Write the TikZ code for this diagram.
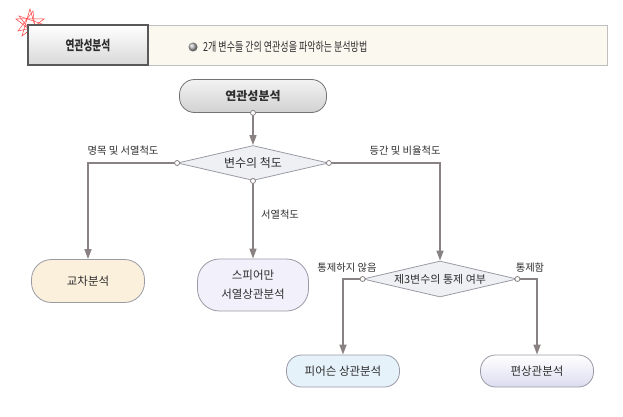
\documentclass[tikz,border=0pt]{standalone}
\usepackage{fontspec}
\setmainfont{Noto Sans CJK KR}
\newfontfamily\hdrfont[FakeStretch=0.72]{Noto Sans CJK KR}
\usetikzlibrary{shapes.geometric,arrows.meta}
\definecolor{linec}{HTML}{8A8282}
\definecolor{txt}{HTML}{2E2E2E}
\definecolor{bord}{HTML}{9A9AA6}
\definecolor{diafill}{HTML}{EEF0F4}
\definecolor{HeaderFill}{HTML}{FBF8F0}
\definecolor{CreamFill}{HTML}{FBF0DC}
\definecolor{LavFill}{HTML}{F2F0FA}
\definecolor{BlueFill}{HTML}{E6F2FA}
\definecolor{PurFill}{HTML}{DCDCF0}
\tikzset{
  pill/.style={rectangle, rounded corners=15pt, draw=bord, line width=0.8pt, inner sep=2pt, align=center, text=txt, font=\fontsize{11.5}{19}\selectfont},
  dia/.style={diamond, draw=bord, line width=0.8pt, fill=diafill, inner sep=0pt, text=txt, font=\fontsize{11}{13}\selectfont},
  conn/.style={draw=linec, line width=1.6pt, -{Triangle[length=10pt,width=7pt]}},
  lbl/.style={text=txt, font=\fontsize{10.3}{12}\selectfont, inner sep=1pt},
  knob/.style={circle, draw=linec, fill=white, line width=0.8pt, inner sep=0pt, minimum size=5pt}
}
\begin{document}
\begin{tikzpicture}[x=1pt,y=-1pt]
\useasboundingbox (0,0) rectangle (623,417);
% red scribble star
\draw[red!80, line width=0.5pt] (30,9) -- (38,36) -- (16,19) -- (44,19) -- (22,36) -- cycle;
\draw[red!70, line width=0.5pt] (33,11) -- (36,38) -- (19,16) -- (45,25) -- (18,31) -- cycle;
% header
\node[draw=black!25, fill=HeaderFill, minimum width=459pt, minimum height=40pt, inner sep=0pt] (hdrR) at (377.5,45) {};
\node[draw=black!65, line width=1.4pt, top color=white, bottom color=black!15, minimum width=120pt, minimum height=40pt, inner sep=0pt, text=txt, font=\hdrfont\bfseries\fontsize{13.5}{15}\selectfont] (hdrL) at (88,45) {연관성분석};
\shade[ball color=black!30] (193,47) circle (4.5pt);
\node[anchor=west, text=txt, font=\hdrfont\fontsize{12.5}{14}\selectfont, inner sep=0pt] (hdrT) at (203,47) {2개 변수들 간의 연관성을 파악하는 분석방법};
% main nodes
\node[pill, top color=black!5, bottom color=black!18, draw=black!55, minimum width=147pt, minimum height=33pt, font=\bfseries\fontsize{12}{14}\selectfont] (top) at (253,96) {연관성분석};
\node[dia, minimum width=151pt, minimum height=35pt, shape aspect=4.4, font=\fontsize{12}{14}\selectfont] (d1) at (253,163) {변수의 척도};
\node[pill, fill=CreamFill, minimum width=113pt, minimum height=43pt, rounded corners=20pt] (cross) at (88,281) {교차분석};
\node[pill, fill=LavFill, minimum width=111pt, minimum height=52pt, rounded corners=22pt] (spear) at (253,285) {스피어만\\서열상관분석};
\node[dia, minimum width=154pt, minimum height=36pt, shape aspect=4.3] (d2) at (440,279) {제3변수의 통제 여부};
\node[pill, fill=BlueFill, minimum width=113pt, minimum height=32pt] (pear) at (343,371) {피어슨 상관분석};
\node[pill, top color=white, bottom color=PurFill, minimum width=113pt, minimum height=32pt] (part) at (537,371) {편상관분석};
% connectors
\draw[conn] (top.south) -- (d1.north);
\draw[conn] (d1.west) -| (cross.north);
\draw[conn] (d1.east) -| (d2.north);
\draw[conn] (d1.south) -- (spear.north);
\draw[conn] (d2.west) -| (pear.north);
\draw[conn] (d2.east) -| (part.north);
% knobs
\node[knob] (k0) at (top.south) {};
\node[knob] (k1) at (d1.west) {};
\node[knob] (k2) at (d1.east) {};
\node[knob] (k3) at (d1.south) {};
\node[knob] (k4) at (d2.west) {};
\node[knob] (k5) at (d2.east) {};
% labels
\node[lbl] (l1) at (123,151) {명목 및 서열척도};
\node[lbl] (l2) at (405,151) {등간 및 비율척도};
\node[lbl] (l3) at (280,215) {서열척도};
\node[lbl] (l4) at (347,268) {통제하지 않음};
\node[lbl] (l5) at (530,268) {통제함};
\end{tikzpicture}
\end{document}
